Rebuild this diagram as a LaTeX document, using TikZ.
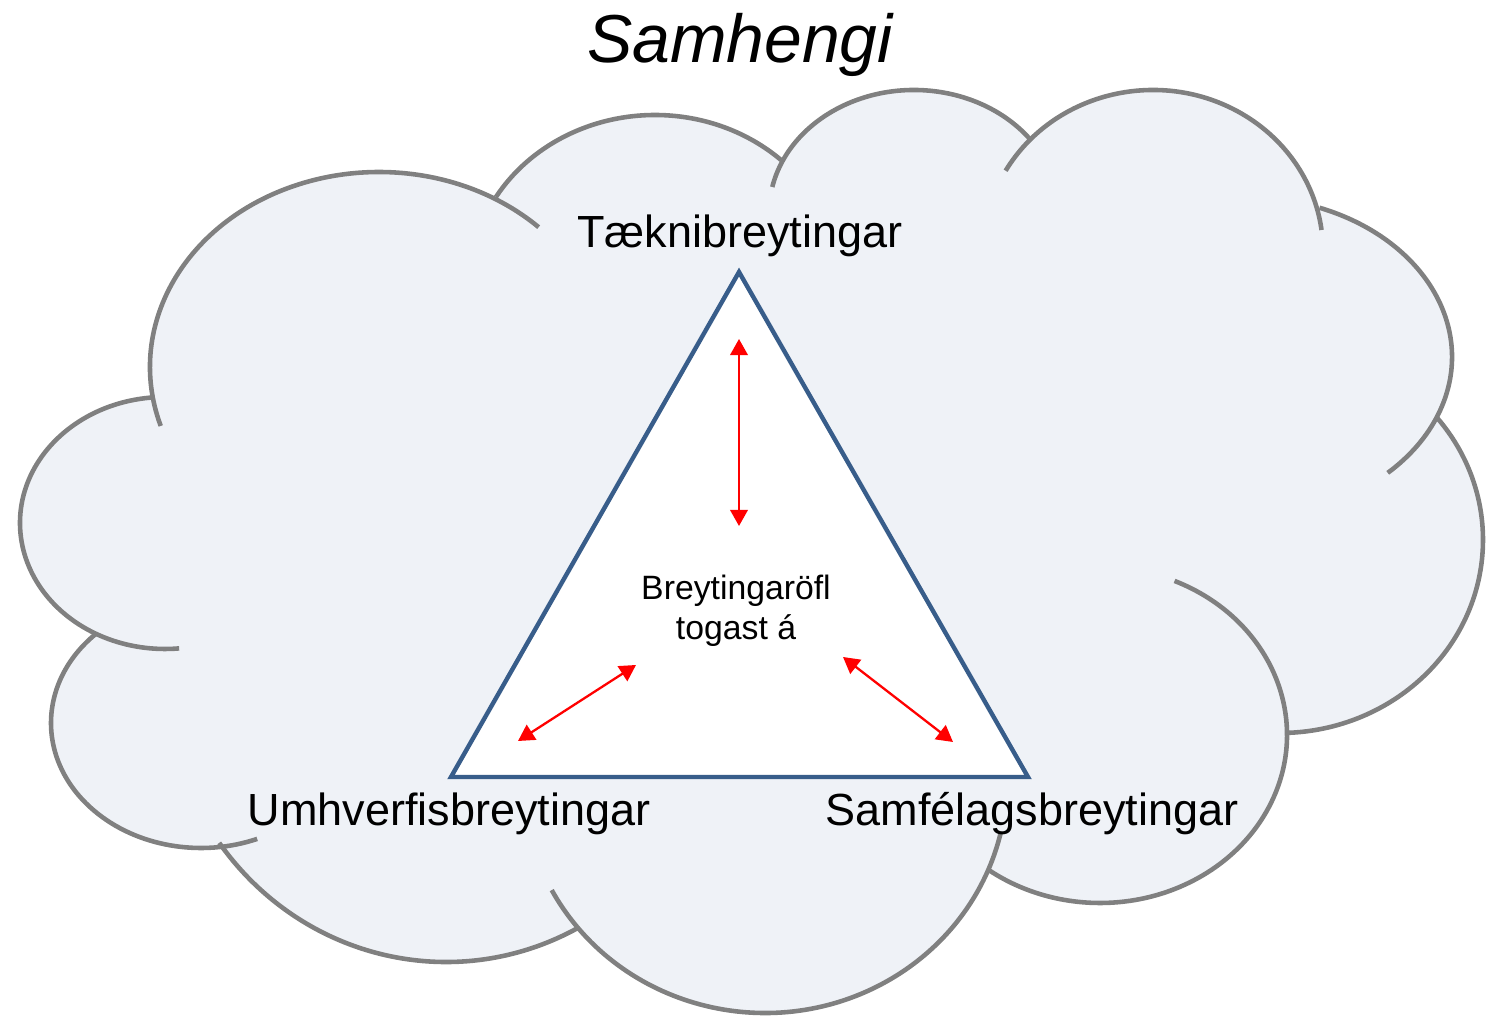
\documentclass[tikz,border=0pt]{standalone}
\usepackage{fontspec}
\setmainfont{Liberation Sans}
\usetikzlibrary{arrows.meta}
\definecolor{cloudfillc}{RGB}{239,242,247}
\definecolor{cloudlinec}{RGB}{128,128,128}
\definecolor{tribluec}{RGB}{56,93,138}
\newcommand\cloudlobe[6]{\draw[cloudline] (#1,#2) ++(#5:#3 and #4) arc[start angle=#5,end angle=#6,x radius=#3,y radius=#4];}
\newcommand\lobefill[4]{\fill[cloudfill] (#1,#2) ellipse[x radius=#3,y radius=#4];}
\begin{document}
\begin{tikzpicture}[x=0.01cm,y=0.01cm,
  cloudfill/.style={fill=cloudfillc},
  cloudline/.style={draw=cloudlinec,line width=1.3pt},
  tri/.style={draw=tribluec,fill=white,line width=1.25pt,line join=miter},
  redarrow/.style={draw=red,line width=0.65pt,{Triangle[length=4.6pt,width=5pt]}-{Triangle[length=4.6pt,width=5pt]}},
  lbl/.style={inner sep=0pt,anchor=base,font=\fontsize{12.8pt}{15pt}\selectfont},
]
\useasboundingbox (0,0) rectangle (1490,-1016);
% cloud fill
\lobefill{165}{-523}{145}{126}
\lobefill{379}{-367}{229}{195}
\lobefill{655}{-284}{185.5}{169}
\lobefill{914}{-213}{145}{123}
\lobefill{1153}{-251}{170}{161}
\lobefill{1245}{-357}{207}{160}
\lobefill{1280}{-540}{203}{193}
\lobefill{1100}{-735}{187}{168}
\lobefill{765}{-780}{242}{233}
\lobefill{446}{-671}{281}{291}
\lobefill{201}{-723}{150}{125}
\fill[cloudfill] (152,-397) -- (496,-197) -- (781,-160) -- (1031,-140) -- (1320,-207) -- (1437,-418) -- (1287,-733) -- (987,-873) -- (578,-928) -- (219,-843) -- (95,-633) -- cycle;
% cloud outline
\cloudlobe{165}{-523}{145}{126}{95}{275.6}
\cloudlobe{379}{-367}{229}{195}{197.6}{45.8}
\cloudlobe{655}{-284}{185.5}{169}{149}{47.2}
\cloudlobe{914}{-213}{145}{123}{167.8}{36.3}
\cloudlobe{1153}{-251}{170}{161}{150.1}{7.5}
\cloudlobe{1245}{-357}{207}{160}{68.9}{-46.4}
\cloudlobe{1280}{-540}{203}{193}{39.3}{-88}
\cloudlobe{1100}{-735}{187}{168}{66.5}{-126.3}
\cloudlobe{765}{-780}{242}{233}{208.2}{346.7}
\cloudlobe{446}{-671}{281}{291}{216.2}{298}
\cloudlobe{201}{-723}{150}{125}{134.5}{292}
% title
\node[inner sep=0pt,anchor=base,font=\fontsize{19.3pt}{23pt}\selectfont\itshape] (title) at (740,-63) {Samhengi};
% triangle
\coordinate (apex) at (739,-272);
\coordinate (bl) at (451,-777);
\coordinate (br) at (1028,-777);
\draw[tri] (apex) -- (br) -- (bl) -- cycle;
% labels
\node[lbl] (tekni) at (740,-248) {Tæknibreytingar};
\node[lbl] (umhv) at (449,-826) {Umhverfisbreytingar};
\node[lbl] (samf) at (1032,-826) {Samfélagsbreytingar};
\node[inner sep=0pt,anchor=base,align=center,font=\fontsize{9.6pt}{11.4pt}\selectfont] (mid) at (736,-640) {Breytingaröfl\\togast á};
% arrows
\coordinate (a1) at (739,-339);
\coordinate (a2) at (739,-526);
\coordinate (b1) at (518,-741);
\coordinate (b2) at (636,-665);
\coordinate (c1) at (843,-657);
\coordinate (c2) at (953,-742);
\draw[redarrow] (a1) -- (a2);
\draw[redarrow] (b1) -- (b2);
\draw[redarrow] (c1) -- (c2);
\end{tikzpicture}
\end{document}
